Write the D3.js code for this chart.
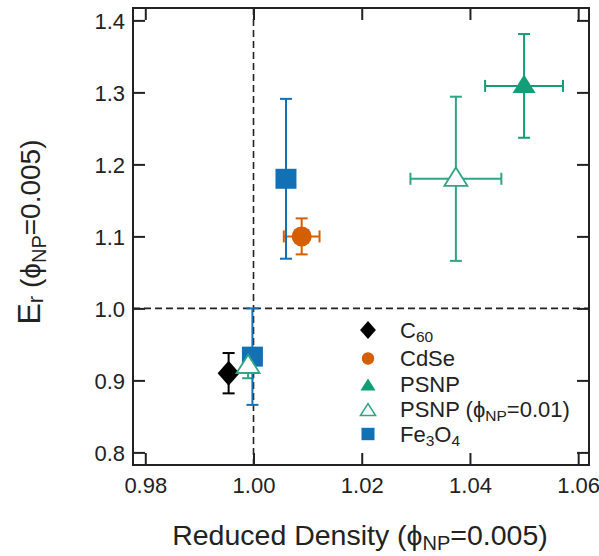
<!DOCTYPE html>
<html>
<head>
<meta charset="utf-8">
<script src="https://cdn.jsdelivr.net/npm/d3@7"></script>
<style>
  html, body { margin: 0; padding: 0; background: #fff; }
  svg { display: block; }
  text { font-family: "Liberation Sans", Arial, sans-serif; fill: #222; }
</style>
</head>
<body>
<svg id="chart" width="599" height="556"></svg>
<script>
// ---- data ----
const pointSeries   = ["C60", "CdSe", "PSNP", "PSNP01", "PSNP01", "Fe3O4", "Fe3O4"];
const densityValues = [0.9954, 1.0089, 1.0500, 1.0374, 0.9990, 1.0060, 0.9998];
const densityErrors = [0,      0.0033, 0.0072, 0.0084, 0,      0,      0     ];
const modulusValues = [0.910,  1.100,  1.309,  1.180,  0.920,  1.180,  0.933 ];
const modulusErrors = [0.028,  0.025,  0.072,  0.114,  0.017,  0.111,  0.067 ];

const xTickValues = [0.98, 1.00, 1.02, 1.04, 1.06];
const yTickValues = [0.8, 0.9, 1.0, 1.1, 1.2, 1.3, 1.4];

const legendKeys  = ["C60", "CdSe", "PSNP", "PSNP01", "Fe3O4"];
// label pieces: [text, isSubscript]
const legendLabels = [
  [["C", false], ["60", true]],
  [["CdSe", false]],
  [["PSNP", false]],
  [["PSNP (\u03D5", false], ["NP", true], ["=0.01)", false]],
  [["Fe", false], ["3", true], ["O", false], ["4", true]]
];

// ---- styling per series ----
const seriesStyle = {
  C60:    { shape: "diamond",  color: "#000000", fill: "#000000" },
  CdSe:   { shape: "circle",   color: "#D55E00", fill: "#D55E00" },
  PSNP:   { shape: "triangle", color: "#129E77", fill: "#129E77" },
  PSNP01: { shape: "triangle", color: "#2FA582", fill: "#ffffff" },
  Fe3O4:  { shape: "square",   color: "#1271B4", fill: "#1271B4" }
};

// ---- layout ----
const L = 133, R = 589, T = 8, B = 465;
const svg = d3.select("#chart");

const x = d3.scaleLinear().domain([0.97773, 1.0620]).range([L, R]);
const y = d3.scaleLinear().domain([0.7825, 1.4172]).range([B, T]);

// marker path builders (size factor s)
function markerPath(shape, s) {
  const p = d3.path();
  if (shape === "diamond") {
    const w = 11 * s, h = 12.5 * s;
    p.moveTo(0, -h); p.lineTo(w, 0); p.lineTo(0, h); p.lineTo(-w, 0); p.closePath();
  } else if (shape === "triangle") {
    const w = 11.5 * s, top = 11.3 * s, bot = 7 * s;
    p.moveTo(0, -top); p.lineTo(w, bot); p.lineTo(-w, bot); p.closePath();
  } else if (shape === "square") {
    const w = 10.5 * s, h = 10 * s;
    p.rect(-w, -h, 2 * w, 2 * h);
  } else {
    p.arc(0, 0, 10 * s, 0, 2 * Math.PI);
  }
  return p.toString();
}

const points = pointSeries.map((k, i) => ({
  key: k, xv: densityValues[i], xe: densityErrors[i],
  yv: modulusValues[i], ye: modulusErrors[i]
}));

// ---- axes: ticks on all four sides, pointing inward ----
const tickLen = 12;
const gBottom = svg.append("g").attr("transform", `translate(0,${B})`)
  .call(d3.axisBottom(x).tickValues(xTickValues).tickFormat(d3.format(".2f"))
    .tickSizeInner(-tickLen).tickSizeOuter(0));
const gTop = svg.append("g").attr("transform", `translate(0,${T})`)
  .call(d3.axisTop(x).tickValues(xTickValues).tickFormat("")
    .tickSizeInner(-tickLen).tickSizeOuter(0));
const gLeft = svg.append("g").attr("transform", `translate(${L},0)`)
  .call(d3.axisLeft(y).tickValues(yTickValues).tickFormat(d3.format(".1f"))
    .tickSizeInner(-tickLen).tickSizeOuter(0));
const gRight = svg.append("g").attr("transform", `translate(${R},0)`)
  .call(d3.axisRight(y).tickValues(yTickValues).tickFormat("")
    .tickSizeInner(-tickLen).tickSizeOuter(0));

[gBottom, gTop, gLeft, gRight].forEach(g => {
  g.select(".domain").remove();
  g.selectAll(".tick line").attr("stroke", "#222").attr("stroke-width", 2);
});
gBottom.selectAll(".tick text")
  .attr("y", 28).attr("dy", null)
  .attr("font-size", 22).attr("fill", "#222")
  .style("font-family", "'Liberation Sans', Arial, sans-serif");
gLeft.selectAll(".tick text")
  .attr("x", -8).attr("dy", 8.5)
  .attr("font-size", 22).attr("fill", "#222")
  .style("font-family", "'Liberation Sans', Arial, sans-serif");

// ---- reference lines at 1.0 ----
svg.append("line")
  .attr("x1", x(1.0)).attr("x2", x(1.0)).attr("y1", T).attr("y2", B)
  .attr("stroke", "#222").attr("stroke-width", 1.6).attr("stroke-dasharray", "7,4");
svg.append("line")
  .attr("x1", L).attr("x2", R).attr("y1", y(1.0)).attr("y2", y(1.0))
  .attr("stroke", "#222").attr("stroke-width", 1.6).attr("stroke-dasharray", "7,4");

// ---- error bars ----
const cap = 6;
const gErr = svg.append("g");
points.forEach(d => {
  const c = seriesStyle[d.key].color;
  const cx = x(d.xv), cy = y(d.yv);
  if (d.ye > 0) {
    const y1 = y(d.yv + d.ye), y2 = y(d.yv - d.ye);
    gErr.append("line").attr("x1", cx).attr("x2", cx).attr("y1", y1).attr("y2", y2)
      .attr("stroke", c).attr("stroke-width", 2);
    [y1, y2].forEach(yy => gErr.append("line")
      .attr("x1", cx - cap).attr("x2", cx + cap).attr("y1", yy).attr("y2", yy)
      .attr("stroke", c).attr("stroke-width", 2));
  }
  if (d.xe > 0) {
    const x1 = x(d.xv - d.xe), x2 = x(d.xv + d.xe);
    gErr.append("line").attr("x1", x1).attr("x2", x2).attr("y1", cy).attr("y2", cy)
      .attr("stroke", c).attr("stroke-width", 2);
    [x1, x2].forEach(xx => gErr.append("line")
      .attr("x1", xx).attr("x2", xx).attr("y1", cy - cap).attr("y2", cy + cap)
      .attr("stroke", c).attr("stroke-width", 2));
  }
});

// ---- markers (open triangles drawn last so they sit on top) ----
const drawOrder = ["C60", "CdSe", "PSNP", "Fe3O4", "PSNP01"];
const gMarks = svg.append("g");
drawOrder.forEach(k => {
  const st = seriesStyle[k];
  gMarks.selectAll(null).data(points.filter(d => d.key === k)).enter()
    .append("path")
    .attr("d", markerPath(st.shape, 1))
    .attr("transform", d => `translate(${x(d.xv)},${y(d.yv)})`)
    .attr("fill", st.fill)
    .attr("stroke", st.fill === "#ffffff" ? st.color : "none")
    .attr("stroke-width", 1.8);
});

// ---- frame ----
svg.append("rect").attr("x", L).attr("y", T).attr("width", R - L).attr("height", B - T)
  .attr("fill", "none").attr("stroke", "#222").attr("stroke-width", 2);

// ---- helper for text with subscripts ----
function richText(sel, parts, size, subSize, subShift) {
  parts.forEach(([t, sub], i) => {
    const prevSub = i > 0 && parts[i - 1][1];
    let dy = 0;
    if (sub && !prevSub) dy = subShift;
    if (!sub && prevSub) dy = -subShift;
    sel.append("tspan").text(t)
      .attr("font-size", sub ? subSize : size)
      .attr("dy", dy);
  });
}

// ---- legend ----
const legendX = 368, legendTextX = 400;
const legendRowY = [330, 358.5, 384, 409, 434];
const gLeg = svg.append("g");
legendKeys.forEach((k, i) => {
  const st = seriesStyle[k];
  const cy = legendRowY[i];
  const s = st.shape === "triangle" ? 0.66 : (st.shape === "diamond" ? 0.72 : 0.62);
  gLeg.append("path")
    .attr("d", markerPath(st.shape, s))
    .attr("transform", `translate(${legendX},${cy + (st.shape === "triangle" ? 2 : 0)})`)
    .attr("fill", st.fill)
    .attr("stroke", st.fill === "#ffffff" ? st.color : "none")
    .attr("stroke-width", 1.5);
  const t = gLeg.append("text").attr("x", legendTextX).attr("y", cy + 7.5);
  richText(t, legendLabels[i], 22, 15.5, 4);
});

// ---- axis titles ----
const xTitle = svg.append("text").attr("x", 360).attr("y", 545).attr("text-anchor", "middle");
richText(xTitle, [["Reduced Density (\u03D5", false], ["NP", true], ["=0.005)", false]], 28.5, 20, 5);

const yTitle = svg.append("text")
  .attr("transform", "translate(40,232) rotate(-90)")
  .attr("text-anchor", "middle");
yTitle.append("tspan").text("E").attr("font-size", 32);
yTitle.append("tspan").text("r").attr("font-size", 22).attr("dy", 3);
yTitle.append("tspan").text(" (\u03D5").attr("font-size", 28).attr("dy", -3);
yTitle.append("tspan").text("NP").attr("font-size", 20).attr("dy", 6);
yTitle.append("tspan").text("=0.005)").attr("font-size", 28).attr("dy", -6);
</script>
</body>
</html>
